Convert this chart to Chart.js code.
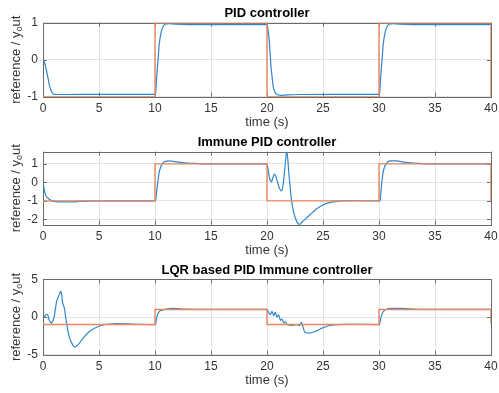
<!DOCTYPE html>
<html><head><meta charset="utf-8">
<script src="https://cdn.jsdelivr.net/npm/chart.js@4.4.1/dist/chart.umd.min.js"></script>
<style>
html,body{margin:0;padding:0;background:#fff;width:499px;height:393px;overflow:hidden}
canvas{position:absolute;left:0}
</style></head><body>
<canvas id="c1" width="499" height="131" style="top:0px"></canvas>
<canvas id="c2" width="499" height="129" style="top:130px"></canvas>
<canvas id="c3" width="499" height="130" style="top:259px"></canvas>
<script>
// ---- data ----
const xTicks = [0, 5, 10, 15, 20, 25, 30, 35, 40];
const refTime = [0, 10, 20, 30, 40];
const refValues = [-1, 1, -1, 1, -1];

const titles = ['PID controller', 'Immune PID controller', 'LQR based PID Immune controller'];
const xLabel = 'time (s)';
const yLabelMain = 'reference / y';
const yLabelSub = 'o';
const yLabelEnd = 'ut';

const yTicksPID = [-1, 0, 1];
const yRangePID = [-1, 1];
const pidTime = [0,0.1,0.2,0.33,0.45,0.56,0.75,0.9,1.07,1.4,2,5,10,10.05,10.1,10.15,10.27,10.39,10.5,10.6,10.75,10.9,11.2,11.9,13,16,20,20.05,20.12,20.2,20.28,20.36,20.46,20.56,20.7,20.87,21.2,21.8,23,26,30,30.05,30.1,30.15,30.27,30.39,30.5,30.6,30.75,30.9,31.2,31.9,33,36,40];
const pidOut = [0,-0.05,-0.15,-0.32,-0.5,-0.68,-0.86,-0.92,-0.935,-0.94,-0.94,-0.935,-0.935,-0.9,-0.72,-0.46,0,0.44,0.67,0.8,0.91,0.96,0.975,0.96,0.95,0.948,0.948,0.9,0.75,0.53,0.17,-0.19,-0.48,-0.73,-0.87,-0.935,-0.962,-0.95,-0.94,-0.935,-0.935,-0.9,-0.72,-0.46,0,0.44,0.67,0.8,0.91,0.96,0.975,0.96,0.95,0.948,0.948];

const yTicksImmune = [-2, -1, 0, 1];
const yRangeImmune = [-2.29, 1.66];
const immuneTime = [0,0.06,0.12,0.24,0.36,0.48,0.77,1.1,1.4,2.1,2.7,3.3,4,5,10,10.05,10.12,10.2,10.28,10.36,10.45,10.54,10.74,11.2,11.8,12.5,13.4,14.6,20,20.06,20.12,20.2,20.3,20.4,20.5,20.65,20.8,20.95,21.1,21.3,21.42,21.55,21.66,21.76,21.85,21.95,22.05,22.2,22.4,22.65,22.88,23.2,23.84,24.44,25.03,25.78,26.5,27.5,30,30.1,30.17,30.24,30.31,30.38,30.5,30.69,30.98,31.6,32.17,33.1,34.3,40];
const immuneOut = [0,-0.2,-0.42,-0.69,-0.8,-0.87,-1.0,-1.04,-1.06,-1.06,-1.05,-1.03,-1.01,-1.0,-1.0,-1.0,-0.65,-0.22,0.15,0.5,0.72,0.89,1.07,1.16,1.12,1.07,1.03,1.0,1.0,0.85,0.6,0.3,0.1,0.03,0.2,0.45,0.3,0.0,-0.3,-0.46,-0.2,0.5,1.2,1.66,1.3,0.5,-0.13,-1.03,-1.66,-2.11,-2.29,-2.11,-1.75,-1.43,-1.21,-1.07,-1.0,-0.99,-1.0,-1.0,-0.55,-0.05,0.3,0.58,0.85,1.04,1.16,1.16,1.1,1.04,1.0,1.0];

const yTicksLQR = [-5, 0, 5];
const yRangeLQR = [-5, 5];
const lqrTime = [0,0.15,0.3,0.42,0.55,0.75,0.85,0.98,1.1,1.22,1.35,1.46,1.58,1.65,1.72,1.78,1.84,1.92,2.05,2.26,2.4,2.56,2.7,2.8,2.95,3.15,3.6,4.2,5.03,5.5,6,6.6,7.5,8.5,10,10.05,10.12,10.25,10.4,10.6,11,11.5,12,12.7,13.5,20,20.15,20.3,20.45,20.6,20.74,20.89,21.04,21.2,21.34,21.49,21.65,21.8,22.23,22.68,22.89,23.07,23.2,23.37,23.72,24.31,24.91,25.5,26.25,27,30,30.05,30.15,30.3,30.5,30.8,31.2,32,32.5,33.5,35,40];
const lqrOut = [0,0.1,0.35,0.3,-0.4,-0.8,-0.6,-0.1,1.0,2.1,2.6,3.0,3.4,3.2,2.3,1.7,1.5,1.1,-0.3,-2.1,-2.9,-3.43,-3.8,-3.96,-3.9,-3.64,-2.76,-1.87,-1.2,-1.02,-0.93,-0.88,-0.92,-0.98,-1.0,-1.0,-0.3,0.4,0.75,0.9,1.05,1.15,1.12,1.05,1.0,1.0,0.6,0.3,0.75,0.17,0.62,0.0,0.3,-0.45,-0.27,-0.8,-0.63,-1.03,-1.1,-1.0,-1.16,-0.72,-1.25,-2.0,-2.13,-1.92,-1.47,-1.16,-1.0,-0.97,-1.0,-1.0,-0.2,0.5,0.9,1.1,1.15,1.15,1.1,1.02,1.0,1.0];

// ---- styles ----
const FONT = '"Liberation Sans", Arial, Helvetica, sans-serif';
const BLUE = '#2f86cc';
const ORANGE = '#e9875f';
const GRID = '#e4e4e4';
const BOX = '#6b6b6b';
const TXT = '#333333';
const TL = 4;

const matlabAxes = {
  id: 'matlabAxes',
  beforeDatasetsDraw(chart) {
    const {ctx, chartArea: a, scales: {x, y}} = chart;
    ctx.save();
    ctx.strokeStyle = BOX;
    ctx.lineWidth = 1;
    ctx.beginPath();
    x.ticks.forEach(t => {
      const px = Math.round(x.getPixelForValue(t.value)) + 0.5;
      ctx.moveTo(px, a.bottom); ctx.lineTo(px, a.bottom - TL);
      ctx.moveTo(px, a.top); ctx.lineTo(px, a.top + TL);
    });
    y.ticks.forEach(t => {
      const py = Math.round(y.getPixelForValue(t.value)) + 0.5;
      ctx.moveTo(a.left, py); ctx.lineTo(a.left + TL, py);
      ctx.moveTo(a.right, py); ctx.lineTo(a.right - TL, py);
    });
    ctx.stroke();
    ctx.strokeRect(Math.round(a.left) + 0.5, Math.round(a.top) + 0.5,
                   Math.round(a.right) - Math.round(a.left), Math.round(a.bottom) - Math.round(a.top));
    ctx.restore();
  },
  afterDraw(chart) {
    const {ctx, chartArea: a} = chart;
    ctx.save();
    const main = '13px ' + FONT, sub = '9px ' + FONT;
    ctx.font = main; const w1 = ctx.measureText(yLabelMain).width; const w3 = ctx.measureText(yLabelEnd).width;
    ctx.font = sub; const w2 = ctx.measureText(yLabelSub).width;
    const total = w1 + w2 + w3;
    ctx.translate(16, (a.top + a.bottom) / 2);
    ctx.rotate(-Math.PI / 2);
    ctx.fillStyle = TXT;
    ctx.textBaseline = 'middle';
    ctx.textAlign = 'left';
    let x0 = -total / 2;
    ctx.font = main; ctx.fillText(yLabelMain, x0, 0); x0 += w1;
    ctx.font = sub; ctx.fillText(yLabelSub, x0, 4); x0 += w2;
    ctx.font = main; ctx.fillText(yLabelEnd, x0, 0);
    ctx.restore();
  }
};

function makeChart(id, title, t, out, yTicks, yRange, titlePadTop) {
  return new Chart(document.getElementById(id), {
    type: 'line',
    data: {
      datasets: [
        { data: refTime.map((v, i) => ({x: v, y: refValues[i]})), borderColor: ORANGE, borderWidth: 1.4,
          pointRadius: 0, stepped: 'before', fill: false },
        { data: t.map((v, i) => ({x: v, y: out[i]})), borderColor: BLUE, borderWidth: 1.2,
          pointRadius: 0, cubicInterpolationMode: 'monotone', fill: false }
      ]
    },
    options: {
      responsive: false,
      animation: false,
      events: [],
      layout: { padding: { left: 0, right: 8, top: 0, bottom: 0 } },
      plugins: {
        legend: { display: false },
        tooltip: { enabled: false },
        title: { display: true, text: title, color: '#000', fullSize: false,
                 font: { family: FONT, size: 13, weight: 'bold' },
                 padding: { top: titlePadTop, bottom: 1.2 } }
      },
      scales: {
        x: {
          type: 'linear', min: 0, max: 40,
          afterBuildTicks: s => { s.ticks = xTicks.map(v => ({value: v})); },
          afterFit: s => { s.height = 34.3; s.paddingLeft = 0; s.paddingRight = 0; },
          grid: { color: GRID, drawTicks: false, lineWidth: 1 },
          border: { display: false },
          ticks: { padding: 5, color: TXT, font: { family: FONT, size: 12 }, maxRotation: 0, autoSkip: false },
          title: { display: true, text: xLabel, color: TXT, font: { family: FONT, size: 13 },
                   padding: { top: 0, bottom: 1.2 } }
        },
        y: {
          type: 'linear', min: yRange[0], max: yRange[1],
          afterBuildTicks: s => { s.ticks = yTicks.map(v => ({value: v})); },
          afterFit: s => { s.width = 43; s.paddingTop = 0; s.paddingBottom = 0; },
          grid: { color: GRID, drawTicks: false, lineWidth: 1 },
          border: { display: false },
          ticks: { padding: 5, color: TXT, font: { family: FONT, size: 12 } }
        }
      }
    },
    plugins: [matlabAxes]
  });
}

makeChart('c1', titles[0], pidTime, pidOut, yTicksPID, yRangePID, 5.9);
makeChart('c2', titles[1], immuneTime, immuneOut, yTicksImmune, yRangeImmune, 4.9);
makeChart('c3', titles[2], lqrTime, lqrOut, yTicksLQR, yRangeLQR, 3.5);
</script>
</body></html>
